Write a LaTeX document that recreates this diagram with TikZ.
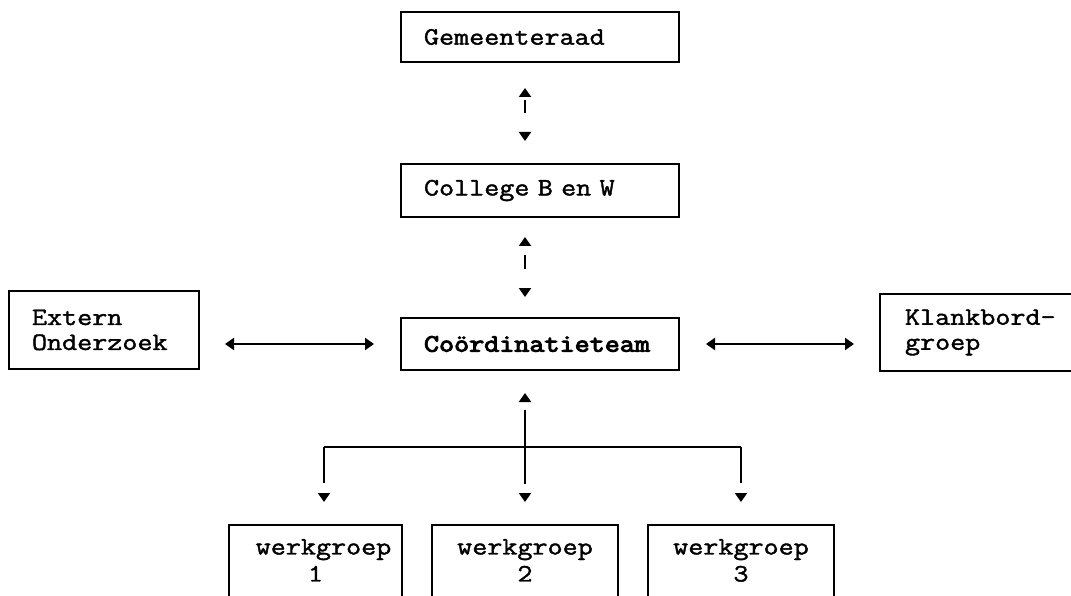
\documentclass[tikz,border=0pt]{standalone}
\usepackage{fontspec}
\usetikzlibrary{arrows.meta}
\newfontfamily\cour[FakeStretch=1.17, FakeBold=1.6]{Latin Modern Mono}
\newfontfamily\courbold[FakeStretch=1.17, FakeBold=4]{Latin Modern Mono}
\begin{document}
\begin{tikzpicture}[x=1pt,y=-1pt,
  box/.style={draw, line width=2pt, rectangle, inner ysep=0pt, align=left,
    font=\cour\fontsize{25}{25}\selectfont},
  lbl/.style={inner sep=0pt, align=center, font=\cour\fontsize{25}{27}\selectfont},
  tipb/.style={line width=2pt, {Triangle[length=9pt,width=12pt]}-{Triangle[length=9pt,width=12pt]}},
  tipe/.style={line width=2pt, -{Triangle[length=9pt,width=12pt]}},
  wline/.style={line width=2pt}]
\useasboundingbox (0,0) rectangle (1071,596);
\fill[white] (0,0) rectangle (1071,596);
\clip (0,0) rectangle (1071,596);

% boxes
\node[box, text width=232pt, inner xsep=23pt, minimum height=50pt] (gem) at (540,37) {Gemeenteraad};
\node[box, text width=232pt, inner xsep=23pt, minimum height=53pt] (col) at (540,190.5) {College B en W};
\node[box, text width=232pt, inner xsep=23pt, minimum height=52pt,
  font=\courbold\fontsize{25}{25}\selectfont] (coo) at (540,344) {Coördinatieteam};
\node[box, text width=144pt, inner xsep=23pt, minimum height=78pt] (ext) at (104,330) {Extern\\Onderzoek};
\node[box, text width=164pt, inner xsep=25pt, minimum height=77pt] (kla) at (987,332.5) {\mbox{Klankbord-}\\groep};

\node[box, minimum width=173pt, minimum height=100pt, anchor=north] (w1) at (315.5,524) {};
\node[box, minimum width=186pt, minimum height=100pt, anchor=north] (w2) at (525,524) {};
\node[box, minimum width=186pt, minimum height=100pt, anchor=north] (w3) at (741,524) {};
\node[lbl, anchor=north] (t1) at (315.5,539) {\hspace*{16pt}werkgroep\\1};
\node[lbl, anchor=north] (t2) at (525,539) {werkgroep\\2};
\node[lbl, anchor=north] (t3) at (741,539) {werkgroep\\3};

% connectors
\coordinate (ax) at (525,0);
\coordinate (j1) at (324,447);
\coordinate (j3) at (741,447);

\draw[tipb, dash pattern=on 0pt off 4pt on 13pt off 80pt, shorten <=25pt, shorten >=22pt]
  (gem.south -| ax) -- (col.north -| ax);
\draw[tipb, dash pattern=on 0pt off 10pt on 13pt off 80pt, shorten <=19pt, shorten >=20pt]
  (col.south -| ax) -- (coo.north -| ax);
\draw[tipb, shorten <=25pt, shorten >=26pt] (coo.west -| ext.east) -- (coo.west);
\draw[tipb, shorten <=26pt, shorten >=25pt] (coo.east) -- (coo.east -| kla.west);
\draw[tipb, dash pattern=on 0pt off 8pt on 74pt off 80pt, shorten <=22pt, shorten >=22pt]
  (coo.south -| ax) -- (w2.north -| ax);
\draw[wline] (j1) -- (j3);
\draw[tipe, dash pattern=on 36pt off 80pt, shorten >=22pt] (j1) -- (w1.north -| j1);
\draw[tipe, dash pattern=on 36pt off 80pt, shorten >=22pt] (j3) -- (w3.north -| j3);
\end{tikzpicture}
\end{document}
